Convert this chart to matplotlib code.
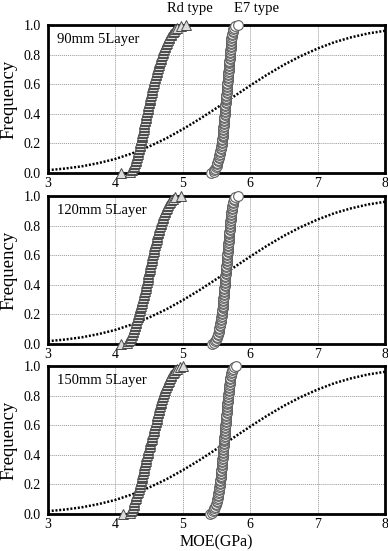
import numpy as np
import matplotlib
matplotlib.use("Agg")
import matplotlib.pyplot as plt

plt.rcParams['font.family'] = ['Liberation Serif', 'DejaVu Serif']

# Panel names
panels = ["90mm 5Layer", "120mm 5Layer", "150mm 5Layer"]

# Rd type MOE values (GPa), sorted
rd_90 = [4.09, 4.22, 4.24, 4.25, 4.26, 4.27, 4.28, 4.29, 4.30, 4.30,
         4.31, 4.32, 4.32, 4.33, 4.33, 4.34, 4.35, 4.35, 4.36, 4.36,
         4.37, 4.37, 4.38, 4.38, 4.39, 4.39, 4.40, 4.40, 4.41, 4.41,
         4.42, 4.42, 4.43, 4.43, 4.43, 4.44, 4.44, 4.45, 4.45, 4.46,
         4.46, 4.47, 4.47, 4.48, 4.48, 4.49, 4.49, 4.50, 4.50, 4.51,
         4.51, 4.52, 4.52, 4.53, 4.53, 4.54, 4.54, 4.55, 4.55, 4.56,
         4.56, 4.57, 4.57, 4.58, 4.59, 4.59, 4.60, 4.60, 4.61, 4.61,
         4.62, 4.63, 4.63, 4.64, 4.65, 4.65, 4.66, 4.67, 4.67, 4.68,
         4.69, 4.70, 4.70, 4.71, 4.72, 4.73, 4.74, 4.75, 4.76, 4.77,
         4.78, 4.79, 4.80, 4.82, 4.83, 4.85, 4.87, 4.89, 4.92, 4.97,
         5.05]
rd_120 = [4.08, 4.17, 4.19, 4.21, 4.22, 4.23, 4.24, 4.25, 4.26, 4.26,
          4.27, 4.28, 4.29, 4.29, 4.30, 4.31, 4.31, 4.32, 4.33, 4.33,
          4.34, 4.35, 4.35, 4.36, 4.36, 4.37, 4.38, 4.38, 4.39, 4.39,
          4.40, 4.41, 4.41, 4.42, 4.42, 4.43, 4.44, 4.44, 4.45, 4.45,
          4.46, 4.46, 4.47, 4.47, 4.48, 4.48, 4.48, 4.49, 4.49, 4.50,
          4.50, 4.51, 4.51, 4.52, 4.52, 4.53, 4.53, 4.54, 4.54, 4.55,
          4.55, 4.56, 4.56, 4.57, 4.57, 4.58, 4.58, 4.59, 4.59, 4.60,
          4.60, 4.61, 4.61, 4.62, 4.62, 4.63, 4.63, 4.64, 4.65, 4.65,
          4.66, 4.67, 4.67, 4.68, 4.69, 4.70, 4.70, 4.71, 4.72, 4.73,
          4.74, 4.75, 4.76, 4.77, 4.78, 4.80, 4.81, 4.83, 4.85, 4.88,
          4.98]
rd_150 = [4.12, 4.22, 4.23, 4.24, 4.25, 4.26, 4.27, 4.27, 4.28, 4.28,
          4.29, 4.30, 4.31, 4.31, 4.32, 4.33, 4.34, 4.35, 4.35, 4.36,
          4.37, 4.37, 4.38, 4.38, 4.39, 4.39, 4.40, 4.40, 4.41, 4.41,
          4.42, 4.42, 4.43, 4.43, 4.44, 4.44, 4.45, 4.45, 4.46, 4.46,
          4.47, 4.48, 4.48, 4.49, 4.49, 4.50, 4.51, 4.51, 4.52, 4.52,
          4.53, 4.54, 4.54, 4.55, 4.55, 4.56, 4.57, 4.57, 4.58, 4.58,
          4.59, 4.59, 4.60, 4.60, 4.61, 4.61, 4.62, 4.62, 4.63, 4.63,
          4.64, 4.65, 4.65, 4.66, 4.66, 4.67, 4.67, 4.68, 4.69, 4.69,
          4.70, 4.71, 4.72, 4.72, 4.73, 4.74, 4.75, 4.76, 4.77, 4.78,
          4.79, 4.80, 4.81, 4.82, 4.83, 4.85, 4.87, 4.89, 4.92, 4.96,
          5.00]

# E7 type MOE values (GPa), sorted
e7_90 = [5.42, 5.46, 5.47, 5.48, 5.49, 5.50, 5.51, 5.51, 5.52, 5.52,
         5.53, 5.535, 5.54, 5.545, 5.55, 5.555, 5.56, 5.565, 5.57, 5.575,
         5.58, 5.58, 5.585, 5.585, 5.59, 5.59, 5.59, 5.595, 5.595, 5.60,
         5.60, 5.60, 5.605, 5.605, 5.61, 5.61, 5.61, 5.615, 5.615, 5.62,
         5.62, 5.62, 5.625, 5.625, 5.63, 5.63, 5.63, 5.635, 5.635, 5.64,
         5.64, 5.64, 5.645, 5.645, 5.65, 5.65, 5.65, 5.655, 5.655, 5.66,
         5.66, 5.66, 5.665, 5.665, 5.67, 5.67, 5.67, 5.675, 5.675, 5.68,
         5.68, 5.68, 5.685, 5.685, 5.69, 5.69, 5.69, 5.695, 5.695, 5.70,
         5.70, 5.70, 5.705, 5.705, 5.71, 5.71, 5.71, 5.715, 5.715, 5.72,
         5.72, 5.72, 5.725, 5.73, 5.73, 5.74, 5.745, 5.75, 5.76, 5.78,
         5.82]
e7_120 = [5.44, 5.47, 5.48, 5.49, 5.50, 5.51, 5.52, 5.52, 5.53, 5.53,
          5.54, 5.54, 5.545, 5.55, 5.555, 5.56, 5.565, 5.57, 5.57, 5.575,
          5.58, 5.58, 5.585, 5.585, 5.59, 5.59, 5.59, 5.595, 5.595, 5.60,
          5.60, 5.60, 5.605, 5.605, 5.61, 5.61, 5.61, 5.615, 5.615, 5.62,
          5.62, 5.62, 5.625, 5.625, 5.63, 5.63, 5.63, 5.635, 5.635, 5.64,
          5.64, 5.64, 5.645, 5.645, 5.65, 5.65, 5.65, 5.655, 5.655, 5.66,
          5.66, 5.66, 5.665, 5.665, 5.67, 5.67, 5.67, 5.675, 5.675, 5.68,
          5.68, 5.68, 5.685, 5.685, 5.69, 5.69, 5.69, 5.695, 5.695, 5.70,
          5.70, 5.70, 5.705, 5.705, 5.71, 5.71, 5.715, 5.715, 5.72, 5.72,
          5.725, 5.725, 5.73, 5.735, 5.74, 5.745, 5.75, 5.755, 5.765, 5.78,
          5.82]
e7_150 = [5.41, 5.44, 5.45, 5.46, 5.47, 5.48, 5.49, 5.49, 5.50, 5.50,
          5.51, 5.515, 5.52, 5.52, 5.525, 5.53, 5.535, 5.54, 5.54, 5.545,
          5.55, 5.55, 5.555, 5.555, 5.56, 5.56, 5.565, 5.565, 5.57, 5.57,
          5.57, 5.575, 5.575, 5.58, 5.58, 5.58, 5.585, 5.585, 5.59, 5.59,
          5.59, 5.595, 5.595, 5.60, 5.60, 5.60, 5.605, 5.605, 5.61, 5.61,
          5.61, 5.615, 5.615, 5.62, 5.62, 5.62, 5.625, 5.625, 5.63, 5.63,
          5.63, 5.635, 5.635, 5.64, 5.64, 5.64, 5.645, 5.645, 5.65, 5.65,
          5.65, 5.655, 5.655, 5.66, 5.66, 5.66, 5.665, 5.665, 5.67, 5.67,
          5.67, 5.675, 5.68, 5.68, 5.685, 5.685, 5.69, 5.69, 5.695, 5.695,
          5.70, 5.70, 5.705, 5.71, 5.715, 5.72, 5.725, 5.73, 5.745, 5.76,
          5.79]

rd_all = [rd_90, rd_120, rd_150]
e7_all = [e7_90, e7_120, e7_150]

# dotted reference curve (same in every panel)
line_x = [3.0, 3.25, 3.5, 3.75, 4.0, 4.25, 4.5, 4.75, 5.0, 5.25, 5.5,
          5.75, 6.0, 6.25, 6.5, 6.75, 7.0, 7.25, 7.5, 7.75, 8.0]
line_y = [0.019, 0.030, 0.045, 0.067, 0.095, 0.133, 0.179, 0.233, 0.296,
          0.365, 0.439, 0.515, 0.591, 0.664, 0.731, 0.790, 0.841, 0.884,
          0.917, 0.943, 0.961]

W, H = 388, 551
fig = plt.figure(figsize=(W / 100, H / 100), dpi=100)

tops = [25, 196, 366]
axes = []
for k in range(3):
    top = tops[k]
    ax = fig.add_axes([48 / W, 1 - (top + 148) / H, 337 / W, 148 / H])
    axes.append(ax)

    ax.plot(line_x, line_y, color='black', linestyle=(0, (0.8, 0.7)), lw=1.8, zorder=2)

    rd = np.sort(rd_all[k])
    e7 = np.sort(e7_all[k])
    ax.plot(rd, np.arange(len(rd)) / (len(rd) - 1), linestyle='none', marker='^',
            markersize=7.5, markerfacecolor='#dcdcdc', markeredgecolor='#4a4a4a',
            markeredgewidth=0.7, clip_on=False, zorder=3)
    ax.plot(e7, np.arange(len(e7)) / (len(e7) - 1), linestyle='none', marker='o',
            markersize=7, markerfacecolor='white', markeredgecolor='#606060',
            markeredgewidth=0.8, clip_on=False, zorder=3)

    ax.set_xlim(3, 8)
    ax.set_ylim(0, 1)
    ax.set_xticks([3, 4, 5, 6, 7, 8])
    ax.set_yticks([0, 0.2, 0.4, 0.6, 0.8, 1.0])
    ax.set_yticklabels(['0.0', '0.2', '0.4', '0.6', '0.8', '1.0'])
    ax.tick_params(length=0, labelsize=10, pad=5)
    ax.tick_params(axis='x', pad=3)
    ax.grid(True, color='#9a9a9a', linestyle=(0, (1, 1)), lw=0.7)
    ax.set_axisbelow(True)
    for s in ax.spines.values():
        s.set_linewidth(2)
    ax.set_ylabel('Frequency', fontsize=13.5)
    ax.yaxis.set_label_coords(-0.09, 0.5)
    ax.text(0.027, 0.9, panels[k], transform=ax.transAxes, fontsize=10.5,
            va='center', ha='left')

axes[0].text(5.1, 1.11, 'Rd type', fontsize=10.5, ha='center', va='center',
             transform=axes[0].get_xaxis_transform())
axes[0].text(6.09, 1.11, 'E7 type', fontsize=10.5, ha='center', va='center',
             transform=axes[0].get_xaxis_transform())
axes[2].set_xlabel('MOE(GPa)', fontsize=11.5)
axes[2].xaxis.set_label_coords(0.5, -0.14)

fig.savefig('out.png', dpi=100)
